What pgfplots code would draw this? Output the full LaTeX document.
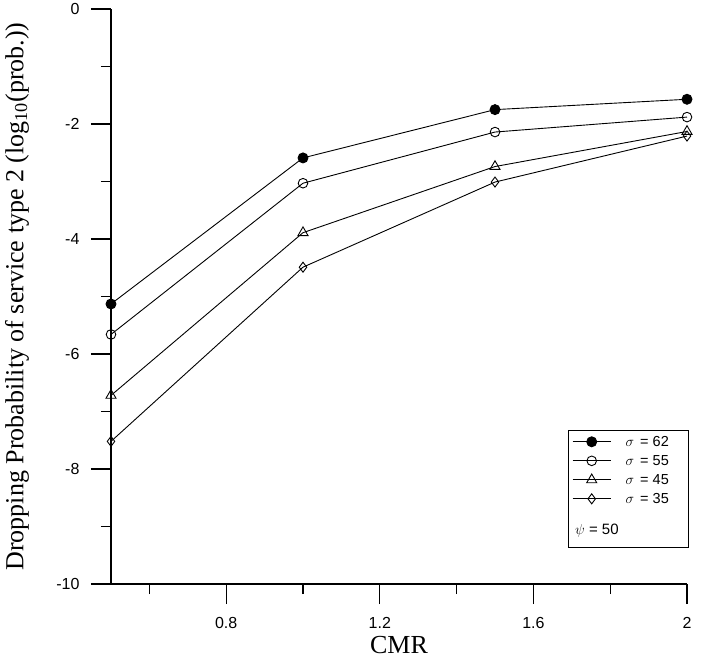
\documentclass[border=0pt]{standalone}
\usepackage{fontspec}
\setmainfont{Liberation Serif}
\newfontfamily\arial{Liberation Sans}
\usepackage{pgfplots}
\pgfplotsset{compat=1.18}
\begin{document}
\begin{tikzpicture}
\path[use as bounding box] (-111pt,-77pt) rectangle (600pt,584pt);
\begin{axis}[
  at={(0,0)}, anchor=south west,
  scale only axis, width=576pt, height=575pt,
  xmin=0.5, xmax=2, ymin=-10, ymax=0,
  clip=false,
  axis x line=bottom, axis y line=left,
  axis line style={-, line width=1.2pt},
  xtick={0.8,1.2,1.6,2}, xticklabels={0.8,1.2,1.6,2},
  minor xtick={0.6,1,1.4,1.8},
  ytick={0,-2,-4,-6,-8,-10}, yticklabels={0,-2,-4,-6,-8,-10},
  minor ytick={-1,-3,-5,-7,-9},
  tick align=outside, major tick length=20pt, minor tick length=10pt,
  every tick/.style={black, line width=1.2pt},
  ticklabel style={font=\arial\fontsize{16}{16}\selectfont},
  xticklabel style={yshift=-10pt},
  yticklabel style={xshift=-8pt},
  xlabel={CMR},
  ylabel={Dropping Probability of service type 2 (log\textsubscript{10}(prob.))},
  label style={font=\fontsize{26}{26}\selectfont},
  xlabel style={at={(axis description cs:0.5,-0.106)}, anchor=center},
  ylabel style={at={(axis description cs:-0.163,0.5)}, anchor=center},
  legend image code/.code={\draw[mark repeat=2,mark phase=2] plot coordinates {(0pt,0pt) (19pt,0pt) (38pt,0pt)};},
  legend style={at={(axis description cs:0.793,0.267)}, anchor=north west,
    draw=black, line width=1pt, font=\arial\fontsize{14.5}{14.5}\selectfont,
    cells={anchor=west}, row sep=3.5pt, inner xsep=4pt, inner ysep=3pt},
]
\addplot[black, line width=0.9pt, mark=*, mark size=5pt, mark options={solid, fill=black}] coordinates {(0.5,-5.13) (1,-2.59) (1.5,-1.75) (2,-1.57)};
\addlegendentry{\hspace{5pt}$\sigma$\hspace{6pt}= 62\kern14pt}
\addplot[black, line width=0.9pt, mark=o, mark size=4.8pt, mark options={solid, fill=white}] coordinates {(0.5,-5.66) (1,-3.03) (1.5,-2.14) (2,-1.88)};
\addlegendentry{\hspace{5pt}$\sigma$\hspace{6pt}= 55\kern14pt}
\addplot[black, line width=0.9pt, mark=triangle, mark size=5.8pt, mark options={solid, fill=white}] coordinates {(0.5,-6.72) (1,-3.89) (1.5,-2.74) (2,-2.13)};
\addlegendentry{\hspace{5pt}$\sigma$\hspace{6pt}= 45\kern14pt}
\addplot[black, line width=0.9pt, mark=diamond, mark size=5pt, mark options={solid, fill=white}] coordinates {(0.5,-7.52) (1,-4.49) (1.5,-3.01) (2,-2.21)};
\addlegendentry{\hspace{5pt}$\sigma$\hspace{6pt}= 35\kern14pt}
\addlegendimage{legend image code/.code={\node[anchor=west, inner sep=0pt, font=\arial\fontsize{15}{15}\selectfont] at (2pt,-14pt) {$\psi$ = 50}; \path[draw=none, fill=none] (0pt,-28pt) rectangle (1pt,6pt);}}
\addlegendentry{}
\end{axis}
\end{tikzpicture}
\end{document}
